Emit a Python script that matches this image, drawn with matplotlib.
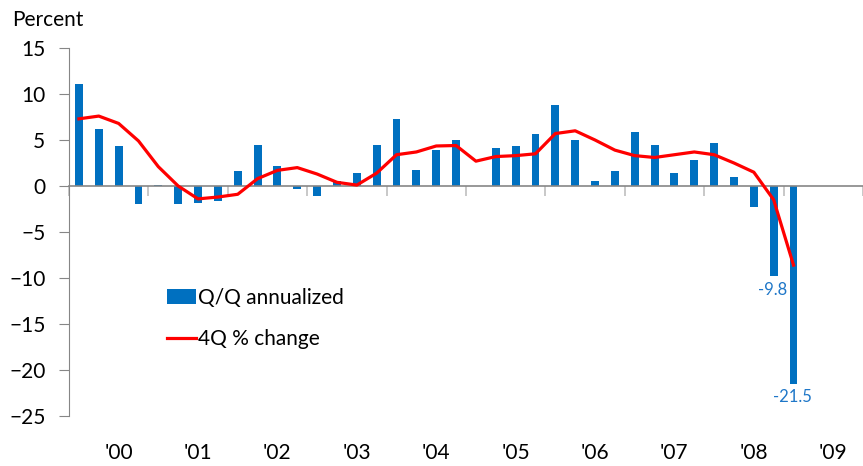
import numpy as np
import matplotlib.pyplot as plt

plt.rcParams['font.family'] = ['Lato', 'DejaVu Sans']

# Quarterly data, 2000Q1 - 2009Q1
qq_annualized = [11.1, 6.2, 4.3, -2.0,
                 0.1, -2.0, -1.8, -1.6,
                 1.6, 4.5, 2.2, -0.3,
                 -1.1, 0.5, 1.4, 4.5,
                 7.3, 1.7, 3.9, 5.0,
                 0.0, 4.1, 4.3, 5.7,
                 8.8, 5.0, 0.5, 1.6,
                 5.9, 4.5, 1.4, 2.8,
                 4.7, 1.0, -2.3, -9.8,
                 -21.5]
four_q_change = [7.3, 7.6, 6.8, 4.9,
                 2.1, 0.0, -1.4, -1.2,
                 -0.9, 0.8, 1.7, 2.0,
                 1.3, 0.4, 0.1, 1.4,
                 3.4, 3.7, 4.35, 4.4,
                 2.7, 3.2, 3.3, 3.5,
                 5.7, 6.0, 5.0, 3.9,
                 3.3, 3.1, 3.4, 3.7,
                 3.4, 2.5, 1.5, -1.5,
                 -8.6]
year_labels = ["'00", "'01", "'02", "'03", "'04", "'05", "'06", "'07", "'08", "'09"]
labelled = {35: '-9.8', 36: '-21.5'}

bar_color = '#0070C0'
axis_gray = '#868686'
fs = 15

fig = plt.figure(figsize=(8.63, 4.66), dpi=100)
ax = fig.add_axes([69/863, 1 - 416/466, 794/863, 368/466])

x = np.arange(len(qq_annualized))
bars = ax.bar(x, qq_annualized, width=0.4, color=bar_color, label='Q/Q annualized', zorder=2)
line, = ax.plot(x, four_q_change, color='#FF0000', lw=2.3, label='4Q % change', zorder=3)

# data labels for last two bars
for i, txt in labelled.items():
    ax.annotate(txt, (x[i], qq_annualized[i]), xytext=(-1, -4), textcoords='offset points',
                ha='center', va='top', fontsize=12, color='#1F77C8')

ax.set_xlim(-0.5, 39.2)
ax.set_ylim(-25, 15)
ax.set_yticks(np.arange(-25, 16, 5))
ax.tick_params(axis='y', length=7, color=axis_gray, labelsize=fs, pad=10)

for s in ['top', 'right']:
    ax.spines[s].set_visible(False)
ax.spines['left'].set_color(axis_gray)
ax.spines['bottom'].set_position(('data', 0))
ax.spines['bottom'].set_color(axis_gray)
ax.spines['bottom'].set_linewidth(1.2)
ax.set_xticks(np.arange(-0.5, 40, 4))
ax.set_xticklabels([])
ax.tick_params(axis='x', length=7, color='#bfbfbf', width=1.2, direction='out')

for k, lab in enumerate(year_labels):
    ax.text(4 * k + 2, -0.1, lab, transform=ax.get_xaxis_transform(),
            ha='center', va='center', fontsize=fs)

fig.text(12/863, 1 - 20/466, 'Percent', fontsize=fs, va='center', ha='left')

ax.legend([bars, line], ['Q/Q annualized', '4Q % change'],
          loc='upper left', bbox_to_anchor=(98/794, 1 - 240/368), frameon=False,
          fontsize=fs, handlelength=1.4, handletextpad=0.1, labelspacing=1.0,
          borderaxespad=0, borderpad=0)

fig.savefig('out.png', dpi=100)
